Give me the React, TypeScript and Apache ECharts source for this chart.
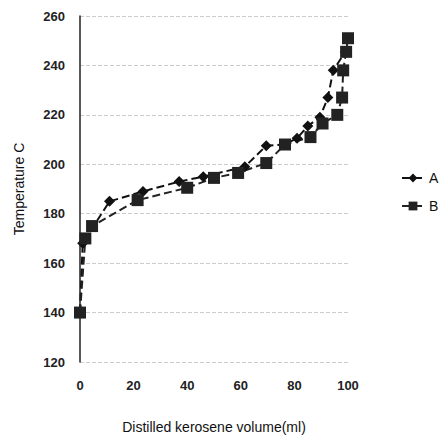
import React, { useEffect, useRef } from "react";
import * as echarts from "echarts";

const seriesNames = ["A", "B"];
const volumeA = [0, 1, 11, 23.5, 37, 46, 61.5, 69.5, 76, 81, 85, 89.5, 92.5, 94.5, 99, 100.5];
const tempA = [140, 168, 185, 189, 193, 195, 199, 207.5, 208, 210.5, 215.5, 219, 227, 238, 245.5, 250];
const volumeB = [0, 2, 4.5, 21.5, 40, 50, 59, 69.5, 76.5, 86, 90.5, 96, 97.8, 98.2, 99.3, 100];
const tempB = [140, 170, 175, 185.5, 190.5, 194.5, 196.5, 200.5, 208, 211, 216.5, 220, 227, 238, 245.5, 251];
const xTicks = [0, 20, 40, 60, 80, 100];
const yTicks = [120, 140, 160, 180, 200, 220, 240, 260];

export default function App() {
  const ref = useRef<HTMLDivElement>(null);
  useEffect(() => {
    if (!ref.current) return;
    const chart = echarts.init(ref.current, null, { renderer: "svg" });
    const font = "Liberation Sans, Arial, sans-serif";
    chart.setOption({
      animation: false,
      backgroundColor: "#fff",
      grid: { left: 80, right: 99, top: 16, bottom: 81, containLabel: false },
      legend: {
        orient: "vertical",
        left: 396,
        top: 166,
        itemGap: 14,
        itemWidth: 22,
        itemHeight: 11,
        textStyle: { fontFamily: font, fontSize: 14, color: "#111" },
        data: seriesNames,
      },
      xAxis: {
        type: "value",
        min: xTicks[0],
        max: xTicks[xTicks.length - 1],
        interval: 20,
        name: "Distilled kerosene volume(ml)",
        nameLocation: "middle",
        nameGap: 58,
        nameTextStyle: { fontFamily: font, fontSize: 14, color: "#111" },
        axisLine: { show: false },
        axisTick: { show: false },
        axisLabel: { fontFamily: font, fontSize: 13, fontWeight: "bold", color: "#222", margin: 17 },
        splitLine: { show: false },
      },
      yAxis: {
        type: "value",
        min: yTicks[0],
        max: yTicks[yTicks.length - 1],
        interval: 20,
        name: "Temperature C",
        nameLocation: "middle",
        nameGap: 54,
        nameTextStyle: { fontFamily: font, fontSize: 14, color: "#111" },
        axisLine: { show: true, lineStyle: { color: "#222", width: 1.5 } },
        axisTick: { show: false },
        axisLabel: { fontFamily: font, fontSize: 13, fontWeight: "bold", color: "#222", margin: 15 },
        splitLine: { show: true, lineStyle: { color: "#ccc", type: "dashed", width: 1 } },
      },
      series: [
        {
          name: seriesNames[0],
          type: "line",
          data: volumeA.map((v, i) => [v, tempA[i]]),
          symbol: "diamond",
          symbolSize: 11,
          itemStyle: { color: "#111" },
          lineStyle: { color: "#111", type: "dashed", width: 2 },
        },
        {
          name: seriesNames[1],
          type: "line",
          data: volumeB.map((v, i) => [v, tempB[i]]),
          symbol: "rect",
          symbolSize: 12,
          itemStyle: { color: "#222" },
          lineStyle: { color: "#222", type: "dashed", width: 2 },
        },
      ],
    });
    return () => chart.dispose();
  }, []);
  return <div ref={ref} style={{ width: 447, height: 443, margin: -8 }} />;
}
